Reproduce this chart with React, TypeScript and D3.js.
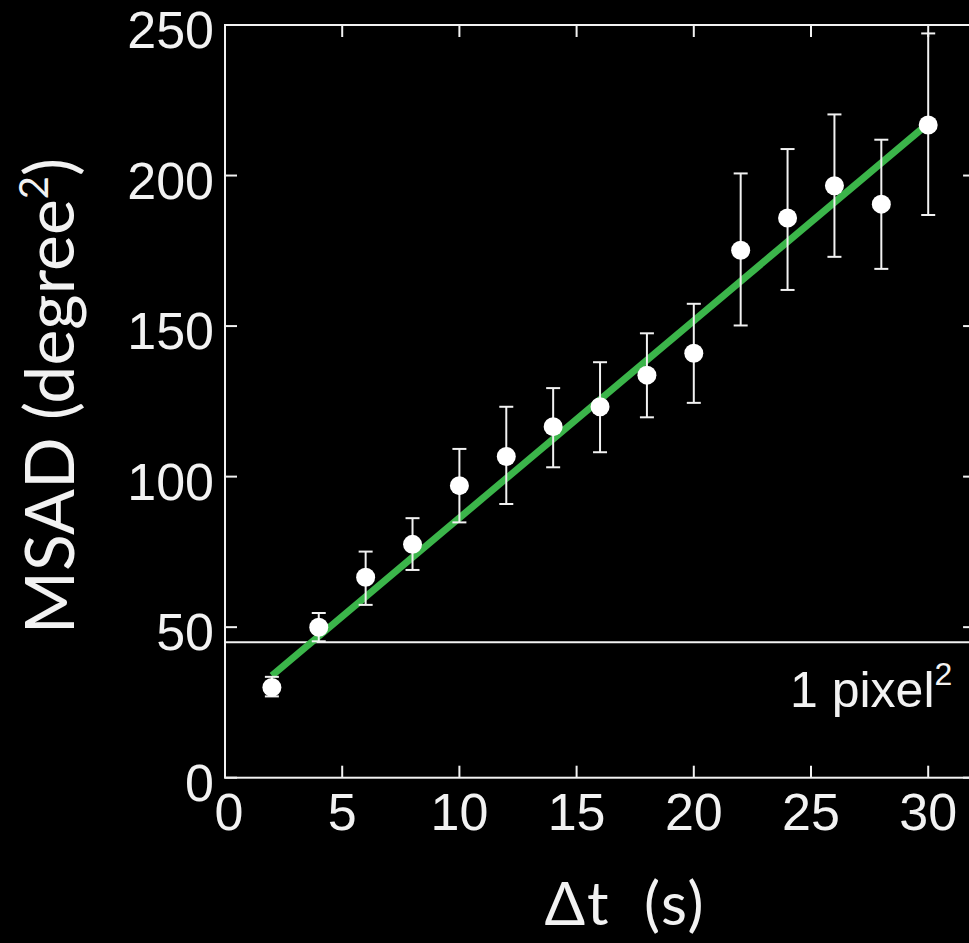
import React, { useEffect, useRef } from "react";
import * as d3 from "d3";

// Δt (s) and MSAD (degree²)
const dt = [2, 4, 6, 8, 10, 12, 14, 16, 18, 20, 22, 24, 26, 28, 30];
const msad = [30, 50, 66.6, 77.5, 97, 106.7, 116.6, 123.2, 133.7, 141, 175.2, 185.9, 196.6, 190.5, 216.8];
const errLow = [27, 45.3, 57.4, 69, 84.8, 90.9, 103.1, 108.1, 119.7, 124.5, 150.2, 162, 173, 169, 186.9];
const errHigh = [33.5, 54.7, 75.1, 86.2, 109.2, 123.2, 129.4, 138, 147.6, 157.4, 200.7, 208.8, 220.3, 211.9, 247.2];

const xTicks = [0, 5, 10, 15, 20, 25, 30];
const yTicks = [0, 50, 100, 150, 200, 250];

// linear fit
const fitSlope = 6.55;
const fitIntercept = 20.8;
const fitRange = [2, 30];

const pixelLevel = 45; // 1 pixel²

const App = () => {
  const svgRef = useRef<SVGSVGElement>(null);

  useEffect(() => {
    const width = 969;
    const height = 943;
    const m = { left: 225, top: 25, bottom: 777.7 };

    const x = d3.scaleLinear().domain([0, 32]).range([m.left, m.left + 32 * 23.44]);
    const y = d3.scaleLinear().domain([0, 250]).range([m.bottom, m.top]);

    const svg = d3.select(svgRef.current).attr("width", width).attr("height", height);
    svg.selectAll("*").remove();

    svg.append("rect").attr("width", width).attr("height", height).attr("fill", "#000");

    const fg = "#f2f2f2";
    const tickLen = 12;
    const [x0, x1] = x.range();

    // frame
    svg
      .append("rect")
      .attr("x", x0)
      .attr("y", y(250))
      .attr("width", x1 - x0)
      .attr("height", y(0) - y(250))
      .attr("fill", "none")
      .attr("stroke", fg)
      .attr("stroke-width", 2);

    const ticks = svg.append("g").attr("stroke", fg).attr("stroke-width", 2);
    xTicks.forEach((t) => {
      ticks.append("line").attr("x1", x(t)).attr("x2", x(t)).attr("y1", y(0)).attr("y2", y(0) - tickLen);
      ticks.append("line").attr("x1", x(t)).attr("x2", x(t)).attr("y1", y(250)).attr("y2", y(250) + tickLen);
    });
    yTicks.forEach((t) => {
      ticks.append("line").attr("x1", x0).attr("x2", x0 + tickLen).attr("y1", y(t)).attr("y2", y(t));
      ticks.append("line").attr("x1", x1).attr("x2", x1 - tickLen).attr("y1", y(t)).attr("y2", y(t));
    });

    const tickFont = "'Liberation Sans', Arial, sans-serif";
    svg
      .append("g")
      .selectAll("text")
      .data(xTicks)
      .join("text")
      .attr("x", (d) => x(d) + (d === 0 ? 4 : 0))
      .attr("y", 830)
      .attr("text-anchor", "middle")
      .attr("font-family", tickFont)
      .attr("font-size", 52)
      .attr("fill", fg)
      .text((d) => d);

    svg
      .append("g")
      .selectAll("text")
      .data(yTicks)
      .join("text")
      .attr("x", 214)
      .attr("y", (d) => y(d) + 23)
      .attr("text-anchor", "end")
      .attr("font-family", tickFont)
      .attr("font-size", 52)
      .attr("fill", fg)
      .text((d) => d);

    // 1 pixel² line
    svg
      .append("line")
      .attr("x1", x0)
      .attr("x2", x1)
      .attr("y1", y(pixelLevel))
      .attr("y2", y(pixelLevel))
      .attr("stroke", fg)
      .attr("stroke-width", 2);

    const lbl = svg
      .append("text")
      .attr("x", 790)
      .attr("y", 707)
      .attr("font-family", tickFont)
      .attr("font-size", 50)
      .attr("fill", fg);
    lbl.append("tspan").text("1 pixel");
    lbl.append("tspan").attr("font-size", 32).attr("dy", -22).text("2");

    // fit line
    svg
      .append("line")
      .attr("x1", x(fitRange[0]))
      .attr("x2", x(fitRange[1]))
      .attr("y1", y(fitIntercept + fitSlope * fitRange[0]))
      .attr("y2", y(fitIntercept + fitSlope * fitRange[1]))
      .attr("stroke", "#3bb54a")
      .attr("stroke-width", 7);

    // error bars
    const data = dt.map((d, i) => ({ x: d, y: msad[i], lo: errLow[i], hi: errHigh[i] }));
    const eb = svg.append("g").attr("stroke", fg).attr("stroke-width", 2);
    data.forEach((d) => {
      eb.append("line").attr("x1", x(d.x)).attr("x2", x(d.x)).attr("y1", y(d.lo)).attr("y2", y(d.hi));
      [d.lo, d.hi].forEach((v) => {
        eb.append("line")
          .attr("x1", x(d.x) - 7)
          .attr("x2", x(d.x) + 7)
          .attr("y1", y(v))
          .attr("y2", y(v));
      });
    });

    svg
      .append("g")
      .selectAll("circle")
      .data(data)
      .join("circle")
      .attr("cx", (d) => x(d.x))
      .attr("cy", (d) => y(d.y))
      .attr("r", 9.5)
      .attr("fill", "#fff");

    // axis titles
    const titleFont = "Lato, 'Open Sans', sans-serif";
    const yt = svg
      .append("text")
      .attr("transform", "translate(74,396) rotate(-90)")
      .attr("text-anchor", "middle")
      .attr("font-family", titleFont)
      .attr("font-size", 68)
      .attr("fill", fg);
    yt.append("tspan").text("MSAD (degree");
    yt.append("tspan").attr("font-size", 40).attr("dy", -26).text("2");
    yt.append("tspan").attr("dy", 26).text(")");

    svg
      .append("text")
      .attr("x", 625)
      .attr("y", 925)
      .attr("text-anchor", "middle")
      .attr("font-family", titleFont)
      .attr("font-size", 60)
      .attr("letter-spacing", 2)
      .attr("word-spacing", 16)
      .attr("fill", fg)
      .text("Δt (s)");
  }, []);

  return (
    <div style={{ position: "absolute", left: 0, top: 0, width: 969, height: 943, background: "#000" }}>
      <svg ref={svgRef} style={{ display: "block" }}></svg>
    </div>
  );
};

export default App;
